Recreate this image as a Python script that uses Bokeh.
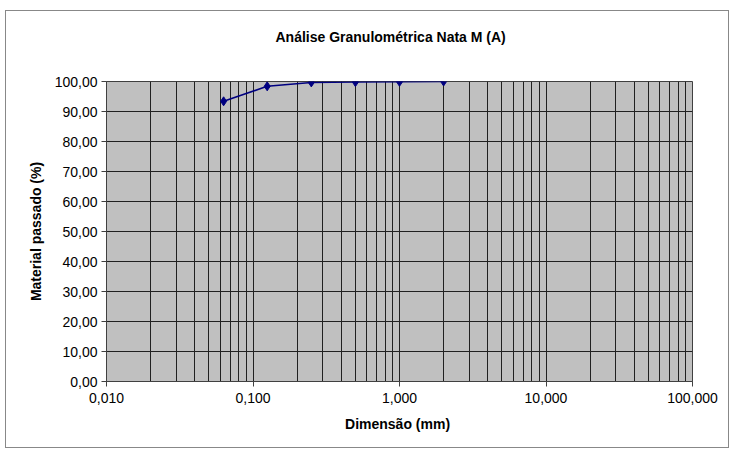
from bokeh.plotting import figure
from bokeh.models import FixedTicker, Range1d, Title
from bokeh.embed import file_html
from bokeh.resources import INLINE

# Data
sizes_mm = [0.063, 0.125, 0.25, 0.5, 1.0, 2.0]
passed_pct = [93.4, 98.4, 99.7, 99.8, 99.9, 100.0]

x_ticks = [0.01, 0.1, 1, 10, 100]
x_tick_labels = ["0,010", "0,100", "1,000", "10,000", "100,000"]
x_minor = [m * d for d in [0.01, 0.1, 1, 10] for m in range(2, 10)]
y_ticks = list(range(0, 101, 10))
y_tick_labels = [f"{v},00" for v in y_ticks]
chart_title = "Análise  Granulométrica Nata M (A)"

FONT = "Liberation Sans"

p = figure(width=722, height=436, x_axis_type="log",
           x_range=Range1d(0.01, 100), y_range=Range1d(0, 100),
           output_backend="svg", toolbar_location=None, title=None)

p.frame_width = 586
p.frame_height = 300
p.min_border_left = 100
p.min_border_right = 36
p.min_border_top = 70
p.min_border_bottom = 66

p.background_fill_color = "#C0C0C0"
p.border_fill_color = "white"
p.outline_line_color = "#404040"

spacer = Title(text=" ", text_font=FONT, text_font_size="14px", standoff=14)
main_title = Title(text=chart_title, align="left", offset=169, standoff=10,
                   text_font=FONT, text_font_size="14px",
                   text_font_style="bold", text_color="black")
p.add_layout(spacer, "above")
p.add_layout(main_title, "above")

p.xaxis.ticker = FixedTicker(ticks=x_ticks, minor_ticks=x_minor)
p.xaxis.major_label_overrides = {t: l for t, l in zip(x_ticks, x_tick_labels)}
p.yaxis.ticker = FixedTicker(ticks=y_ticks)
p.yaxis.major_label_overrides = {t: l for t, l in zip(y_ticks, y_tick_labels)}

for ax in (p.xaxis, p.yaxis):
    ax.major_label_text_font = FONT
    ax.major_label_text_font_size = "14px"
    ax.major_label_text_color = "black"
    ax.axis_label_text_font = FONT
    ax.axis_label_text_font_size = "14px"
    ax.axis_label_text_font_style = "bold"
    ax.axis_label_text_color = "black"
    ax.axis_line_color = "#404040"
    ax.major_tick_line_color = "#404040"
    ax.major_tick_out = 5
    ax.major_tick_in = 0
    ax.minor_tick_line_color = None

p.xaxis.axis_label = "Dimensão  (mm)"
p.yaxis.axis_label = "Material passado (%)"
p.xaxis.major_label_standoff = 6
p.xaxis.axis_label_standoff = 10
p.yaxis.major_label_standoff = 4
p.yaxis.axis_label_standoff = 8

p.xgrid.grid_line_color = "#202020"
p.xgrid.minor_grid_line_color = "#202020"
p.ygrid.grid_line_color = "#202020"

p.line(sizes_mm, passed_pct, line_color="#000080", line_width=1.5)
p.scatter(sizes_mm, passed_pct, marker="diamond", size=9,
          fill_color="#000080", line_color="#000080")

p.styles = {"border": "1px solid #888888", "margin-left": "5px", "margin-top": "10px"}

open("out.html", "w").write(file_html(p, INLINE))
